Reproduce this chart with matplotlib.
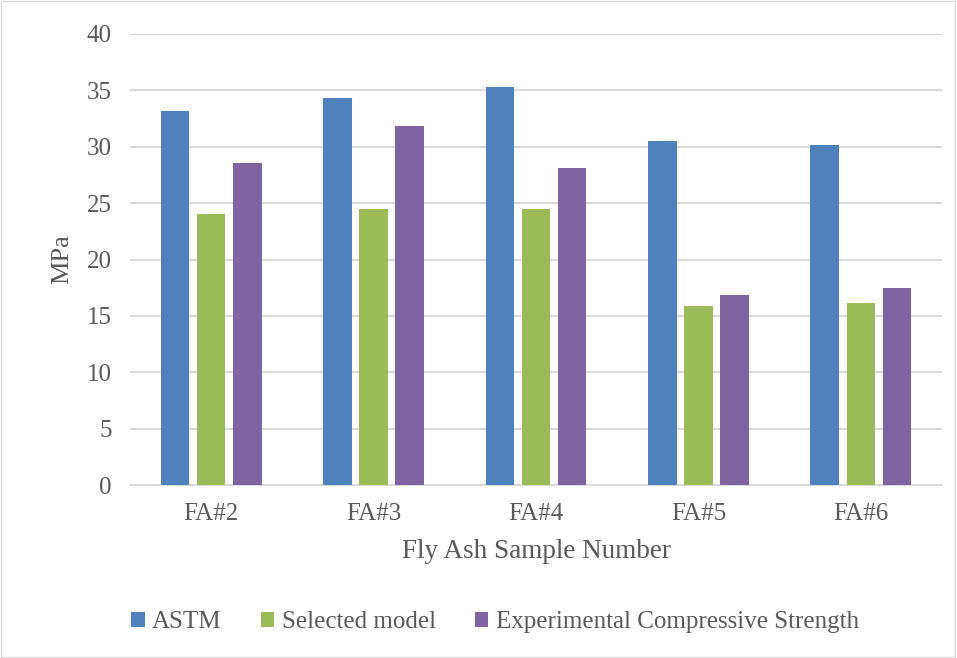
import numpy as np
import matplotlib.pyplot as plt

plt.rcParams['font.family'] = ['Liberation Serif', 'DejaVu Serif']

# data
samples = ["FA#2", "FA#3", "FA#4", "FA#5", "FA#6"]
astm = [33.2, 34.3, 35.3, 30.5, 30.15]
selected_model = [24.0, 24.45, 24.45, 15.9, 16.1]
experimental = [28.6, 31.85, 28.1, 16.85, 17.45]

series_names = ["ASTM", "Selected model", "Experimental Compressive Strength"]
colors = ["#4F81BD", "#9BBB59", "#8064A2"]
text_color = "#595959"

fig = plt.figure(figsize=(9.57, 6.58), dpi=100)
ax = fig.add_axes([130 / 957, 1 - 485 / 658, 812 / 957, 451 / 658])

x = np.arange(len(samples))
width = 0.176
step = 0.222
for i, (vals, name, c) in enumerate(zip([astm, selected_model, experimental], series_names, colors)):
    ax.bar(x + (i - 1) * step, vals, width, color=c, label=name, zorder=3)

ax.set_xlim(-0.5, len(samples) - 0.5)
ax.set_ylim(0, 40)
ax.set_yticks(range(0, 41, 5))
ax.set_xticks(x)
ax.set_xticklabels(samples)
ax.grid(axis="y", color="#D9D9D9", linewidth=1.4, zorder=0)
for s in ["top", "right", "left"]:
    ax.spines[s].set_visible(False)
ax.spines["bottom"].set_color("#D9D9D9")
ax.spines["bottom"].set_linewidth(1.4)
ax.tick_params(length=0, labelsize=18, colors=text_color, pad=13)
ax.tick_params(axis="y", pad=13)

ax.set_ylabel("MPa", fontsize=19, color=text_color, labelpad=10)
ax.set_xlabel("Fly Ash Sample Number", fontsize=19.5, color=text_color, labelpad=10)

leg = fig.legend(loc="center", bbox_to_anchor=(495 / 957, 1 - 622 / 658), ncol=3,
                 frameon=False, fontsize=18, handlelength=0.55, handleheight=0.55,
                 handletextpad=0.3, columnspacing=1.55, labelcolor=text_color)

# light border around the whole chart
fig.patches.append(plt.Rectangle((0.001, 0.001), 0.997, 0.997, transform=fig.transFigure,
                                 fill=False, edgecolor="#D9D9D9", linewidth=1))

fig.savefig("out.png", dpi=100)
